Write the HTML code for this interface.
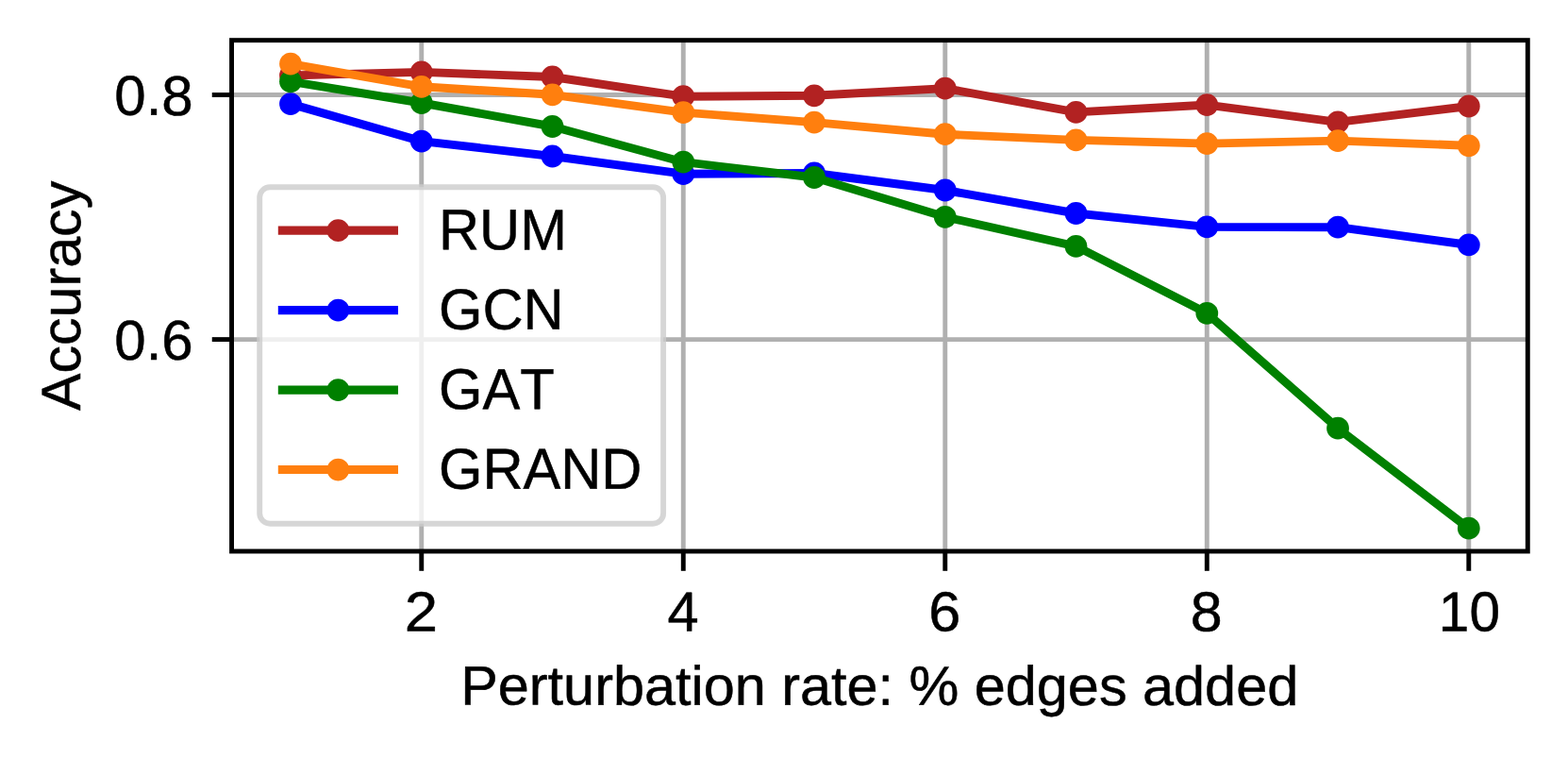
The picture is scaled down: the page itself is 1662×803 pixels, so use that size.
<!DOCTYPE html>
<html lang="en"><head><meta charset="utf-8"><title>Accuracy vs perturbation rate</title>
<style>html,body{margin:0;padding:0;background:#fff;}body{width:1662px;height:803px;overflow:hidden;}svg{display:block;}text{font-kerning:none;font-family:"Liberation Sans",sans-serif;fill:#000;}</style>
</head><body>
<svg width="1662" height="803" viewBox="0 0 1662 803">
<rect x="0" y="0" width="1662" height="803" fill="#fff"/>
<g stroke="#b0b0b0" stroke-width="4.90" fill="none">
<line x1="446.76" y1="42.65" x2="446.76" y2="584.00"/>
<line x1="724.27" y1="42.65" x2="724.27" y2="584.00"/>
<line x1="1001.78" y1="42.65" x2="1001.78" y2="584.00"/>
<line x1="1279.29" y1="42.65" x2="1279.29" y2="584.00"/>
<line x1="1556.80" y1="42.65" x2="1556.80" y2="584.00"/>
<line x1="245.55" y1="100.50" x2="1619.30" y2="100.50"/>
<line x1="245.55" y1="359.60" x2="1619.30" y2="359.60"/>
</g>
<g stroke="#000" stroke-width="4.90" fill="none">
<line x1="446.76" y1="584.00" x2="446.76" y2="604.80"/>
<line x1="724.27" y1="584.00" x2="724.27" y2="604.80"/>
<line x1="1001.78" y1="584.00" x2="1001.78" y2="604.80"/>
<line x1="1279.29" y1="584.00" x2="1279.29" y2="604.80"/>
<line x1="1556.80" y1="584.00" x2="1556.80" y2="604.80"/>
<line x1="224.75" y1="100.50" x2="245.55" y2="100.50"/>
<line x1="224.75" y1="359.60" x2="245.55" y2="359.60"/>
</g>
<polyline points="308.00,80.00 446.76,76.40 585.51,81.50 724.27,102.20 863.02,101.30 1001.78,93.60 1140.53,118.90 1279.29,111.10 1418.04,129.40 1556.80,112.50" fill="none" stroke="#b22222" stroke-width="8.90" stroke-linejoin="round" stroke-linecap="square"/>
<g fill="#b22222"><circle cx="308.00" cy="80.00" r="11.90"/><circle cx="446.76" cy="76.40" r="11.90"/><circle cx="585.51" cy="81.50" r="11.90"/><circle cx="724.27" cy="102.20" r="11.90"/><circle cx="863.02" cy="101.30" r="11.90"/><circle cx="1001.78" cy="93.60" r="11.90"/><circle cx="1140.53" cy="118.90" r="11.90"/><circle cx="1279.29" cy="111.10" r="11.90"/><circle cx="1418.04" cy="129.40" r="11.90"/><circle cx="1556.80" cy="112.50" r="11.90"/></g>
<polyline points="308.00,110.10 446.76,149.60 585.51,165.50 724.27,184.20 863.02,183.50 1001.78,201.50 1140.53,226.00 1279.29,240.40 1418.04,240.70 1556.80,259.40" fill="none" stroke="#0000ff" stroke-width="8.90" stroke-linejoin="round" stroke-linecap="square"/>
<g fill="#0000ff"><circle cx="308.00" cy="110.10" r="11.90"/><circle cx="446.76" cy="149.60" r="11.90"/><circle cx="585.51" cy="165.50" r="11.90"/><circle cx="724.27" cy="184.20" r="11.90"/><circle cx="863.02" cy="183.50" r="11.90"/><circle cx="1001.78" cy="201.50" r="11.90"/><circle cx="1140.53" cy="226.00" r="11.90"/><circle cx="1279.29" cy="240.40" r="11.90"/><circle cx="1418.04" cy="240.70" r="11.90"/><circle cx="1556.80" cy="259.40" r="11.90"/></g>
<polyline points="308.00,86.30 446.76,109.00 585.51,134.00 724.27,171.70 863.02,188.00 1001.78,229.80 1140.53,260.90 1279.29,331.80 1418.04,453.70 1556.80,559.70" fill="none" stroke="#008000" stroke-width="8.90" stroke-linejoin="round" stroke-linecap="square"/>
<g fill="#008000"><circle cx="308.00" cy="86.30" r="11.90"/><circle cx="446.76" cy="109.00" r="11.90"/><circle cx="585.51" cy="134.00" r="11.90"/><circle cx="724.27" cy="171.70" r="11.90"/><circle cx="863.02" cy="188.00" r="11.90"/><circle cx="1001.78" cy="229.80" r="11.90"/><circle cx="1140.53" cy="260.90" r="11.90"/><circle cx="1279.29" cy="331.80" r="11.90"/><circle cx="1418.04" cy="453.70" r="11.90"/><circle cx="1556.80" cy="559.70" r="11.90"/></g>
<polyline points="308.00,67.55 446.76,91.80 585.51,100.30 724.27,119.10 863.02,129.60 1001.78,142.20 1140.53,148.40 1279.29,152.10 1418.04,149.10 1556.80,154.30" fill="none" stroke="#ff7f0e" stroke-width="8.90" stroke-linejoin="round" stroke-linecap="square"/>
<g fill="#ff7f0e"><circle cx="308.00" cy="67.55" r="11.90"/><circle cx="446.76" cy="91.80" r="11.90"/><circle cx="585.51" cy="100.30" r="11.90"/><circle cx="724.27" cy="119.10" r="11.90"/><circle cx="863.02" cy="129.60" r="11.90"/><circle cx="1001.78" cy="142.20" r="11.90"/><circle cx="1140.53" cy="148.40" r="11.90"/><circle cx="1279.29" cy="152.10" r="11.90"/><circle cx="1418.04" cy="149.10" r="11.90"/><circle cx="1556.80" cy="154.30" r="11.90"/></g>
<rect x="245.55" y="42.65" width="1373.75" height="541.35" fill="none" stroke="#000" stroke-width="4.90" stroke-linejoin="miter"/>
<text transform="translate(446.36,668.55) rotate(0.03) scale(1.0680,1)" font-size="59.40" text-anchor="middle" stroke="#000" stroke-width="0.50" stroke-linejoin="round">2</text>
<text transform="translate(724.17,668.55) rotate(0.03) scale(1.0020,1)" font-size="59.40" text-anchor="middle" stroke="#000" stroke-width="0.50" stroke-linejoin="round">4</text>
<text transform="translate(1001.28,668.55) rotate(0.03) scale(1.0300,1)" font-size="59.40" text-anchor="middle" stroke="#000" stroke-width="0.50" stroke-linejoin="round">6</text>
<text transform="translate(1278.79,668.55) rotate(0.03) scale(1.0250,1)" font-size="59.40" text-anchor="middle" stroke="#000" stroke-width="0.50" stroke-linejoin="round">8</text>
<text transform="translate(1557.40,668.55) rotate(0.03) scale(0.9850,1)" font-size="59.40" text-anchor="middle" stroke="#000" stroke-width="0.50" stroke-linejoin="round">10</text>
<text transform="translate(204.70,121.90) rotate(0.03) scale(1.0100,1)" font-size="59.40" text-anchor="end" stroke="#000" stroke-width="0.50" stroke-linejoin="round">0.8</text>
<text transform="translate(204.70,381.00) rotate(0.03) scale(1.0100,1)" font-size="59.40" text-anchor="end" stroke="#000" stroke-width="0.50" stroke-linejoin="round">0.6</text>
<text transform="translate(932.20,746.80) rotate(0.03) scale(1.0135,1)" font-size="58.60" text-anchor="middle" stroke="#000" stroke-width="0.50" stroke-linejoin="round">Perturbation rate: % edges added</text>
<text transform="translate(85.10,313.40) rotate(-89.97) scale(1.0100,1)" font-size="58.60" text-anchor="middle" stroke="#000" stroke-width="0.50" stroke-linejoin="round">Accuracy</text>
<rect x="275.20" y="198.30" width="427.90" height="356.40" rx="11" ry="11" fill="#fff" fill-opacity="0.8" stroke="#ccc" stroke-opacity="0.8" stroke-width="5.9"/>
<line x1="294.80" y1="244.15" x2="422.00" y2="244.15" stroke="#b22222" stroke-width="9.10"/>
<circle cx="358.40" cy="244.15" r="11.90" fill="#b22222"/>
<text transform="translate(465.00,264.35) rotate(0.03) scale(0.9780,1)" font-size="61.00" text-anchor="start" stroke="#000" stroke-width="0.50" stroke-linejoin="round">RUM</text>
<line x1="294.80" y1="328.60" x2="422.00" y2="328.60" stroke="#0000ff" stroke-width="9.10"/>
<circle cx="358.40" cy="328.60" r="11.90" fill="#0000ff"/>
<text transform="translate(465.00,348.80) rotate(0.03) scale(0.9780,1)" font-size="61.00" text-anchor="start" stroke="#000" stroke-width="0.50" stroke-linejoin="round">GCN</text>
<line x1="294.80" y1="413.10" x2="422.00" y2="413.10" stroke="#008000" stroke-width="9.10"/>
<circle cx="358.40" cy="413.10" r="11.90" fill="#008000"/>
<text transform="translate(465.00,433.30) rotate(0.03) scale(0.9780,1)" font-size="61.00" text-anchor="start" stroke="#000" stroke-width="0.50" stroke-linejoin="round">GAT</text>
<line x1="294.80" y1="497.55" x2="422.00" y2="497.55" stroke="#ff7f0e" stroke-width="9.10"/>
<circle cx="358.40" cy="497.55" r="11.90" fill="#ff7f0e"/>
<text transform="translate(465.00,517.75) rotate(0.03) scale(0.9780,1)" font-size="61.00" text-anchor="start" stroke="#000" stroke-width="0.50" stroke-linejoin="round">GRAND</text>
</svg>
</body></html>
